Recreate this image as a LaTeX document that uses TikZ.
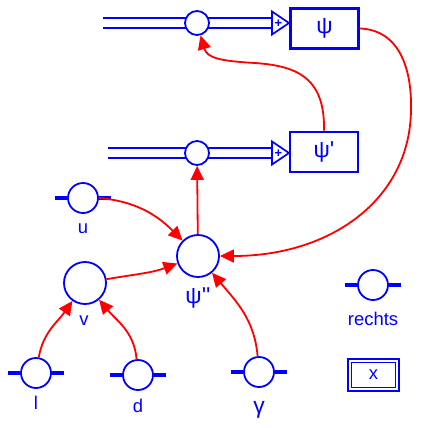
\documentclass[tikz,border=0pt]{standalone}
\usepackage{fontspec}
\setmainfont{Liberation Sans}
\usetikzlibrary{arrows.meta}
\newcommand{\grk}[1]{{\fontsize{23}{25}\selectfont #1}}

\begin{document}
\begin{tikzpicture}[x=1bp,y=-1bp,font=\fontsize{18.5}{21}\selectfont,
  level/.style={draw=blue,line width=2.8bp,minimum width=68bp,minimum height=40bp,inner sep=0pt,text=blue},
  rate/.style={draw=blue,circle,fill=white,line width=1.8bp,minimum size=24bp,inner sep=0pt},
  aux/.style={draw=blue,circle,fill=white,line width=1.8bp,minimum size=42bp,inner sep=0pt},
  param/.style={draw=blue,circle,fill=white,line width=1.8bp,minimum size=30bp,inner sep=0pt},
  bar/.style={blue,line width=3.5bp},
  flow/.style={draw=blue,double=white,line width=1.7bp,double distance=8.3bp},
  tri/.style={draw=blue,fill=white,line width=1.7bp},
  const/.style={draw=blue,double=white,line width=1.8bp,double distance=1.8bp,minimum width=47.6bp,minimum height=28.6bp,inner sep=0pt,text=blue},
  lbl/.style={text=blue,inner sep=0pt},
  link/.style={red,line width=1.8bp,-{Triangle[length=14bp,width=13bp]}}]
\useasboundingbox (0,0) rectangle (422,428);

% flows
\coordinate (in1) at (103,23);
\coordinate (tip1) at (272,23);
\coordinate (in2) at (108,153);
\coordinate (tip2) at (272,153);
\path[flow] (in1) -- (tip1);
\path[flow] (in2) -- (tip2);
\path[tri] (tip1) -- ++(0,-11.5) -- ++(17,11.5) -- ++(-17,11.5) -- cycle;
\path[tri] (tip2) -- ++(0,-11.5) -- ++(17,11.5) -- ++(-17,11.5) -- cycle;
\node[lbl,font=\fontsize{13}{13}\selectfont\bfseries] (plus1) at (278.5,23.5) {+};
\node[lbl,font=\fontsize{13}{13}\selectfont\bfseries] (plus2) at (278.5,153.5) {+};

% levels and rates
\node[level] (psi) at (324.5,28.5) {\grk{ψ}};
\node[level] (psi1) at (324,152) {\grk{ψ\textquotesingle}};
\node[rate] (r1) at (197,23) {};
\node[rate] (r2) at (197,153) {};

% auxiliaries
\node[aux] (psi2) at (198,256) {};
\node[aux] (v) at (85,283) {};
\node[lbl] (psi2lbl) at (198,298) {\grk{ψ\textquotesingle\textquotesingle}};
\node[lbl] (vlbl) at (84,321) {v};

% parameters
\node[param] (u) at (83,198) {};
\node[param] (l) at (36,373) {};
\node[param] (d) at (138,375) {};
\node[param] (g) at (259,372) {};
\node[param] (re) at (373,285) {};
\foreach \n in {u,l,d,g,re} {
  \draw[bar] (\n.west) -- ++(-12,0);
  \draw[bar] (\n.east) -- ++(12,0);
}
\node[lbl] (ulbl) at (83,229) {u};
\node[lbl] (llbl) at (36,403) {l};
\node[lbl] (dlbl) at (138,406) {d};
\node[lbl] (glbl) at (259,410) {\grk{γ}};
\node[lbl] (relbl) at (373,319) {rechts};

\node[const] (x) at (373.5,375) {x};

% links
\draw[link] (psi.east) .. controls (400,30) and (412,70) .. (411,110)
  .. controls (410,200) and (330,256) .. (psi2.east);
\draw[link] (psi1.north) .. controls (325,80) and (300,66) .. (255,63)
  .. controls (220,61) and (207,58) .. (r1);
\draw[link] (psi2) -- (r2);
\draw[link] (u.east) to[out=-5,in=135] (psi2);
\draw[link] (v) to[out=10,in=200] (psi2);
\draw[link] (l) to[out=80,in=235] (v);
\draw[link] (d) to[out=95,in=-50] (v);
\draw[link] (g) to[out=95,in=-50] (psi2);
\end{tikzpicture}
\end{document}
